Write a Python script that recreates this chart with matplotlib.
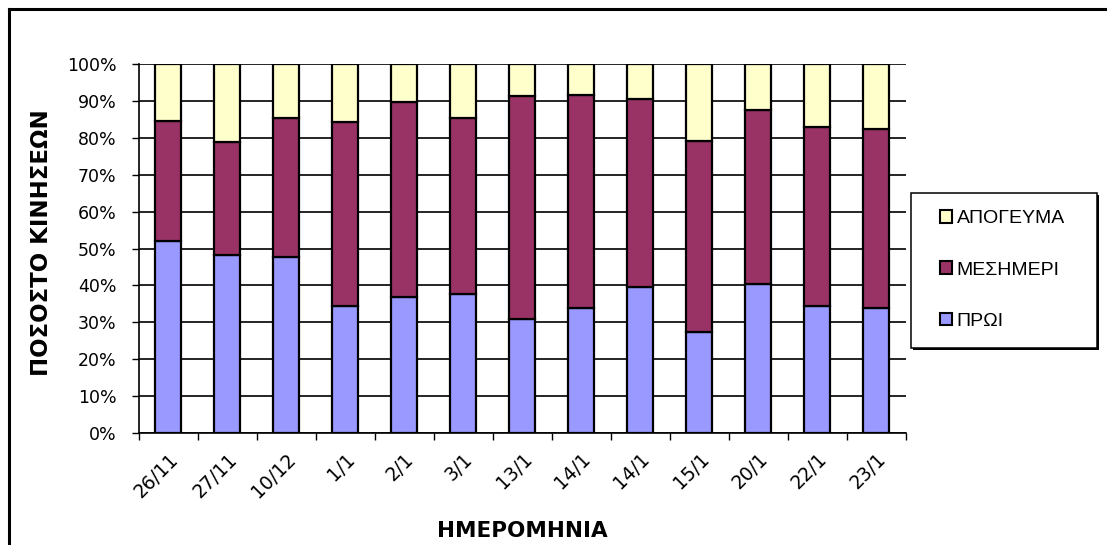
import matplotlib
matplotlib.use("Agg")
import matplotlib.pyplot as plt
import numpy as np
from matplotlib.patches import Patch, Rectangle
from matplotlib.lines import Line2D

dates = ["26/11", "27/11", "10/12", "1/1", "2/1", "3/1", "13/1", "14/1",
         "14/1", "15/1", "20/1", "22/1", "23/1"]
proi = [52.1, 48.3, 47.6, 34.5, 36.9, 37.6, 31.0, 33.8, 39.7, 27.5, 40.3, 34.5, 33.8]
mesimeri = [32.5, 30.6, 37.8, 49.9, 52.7, 47.8, 60.4, 57.9, 50.9, 51.7, 47.1, 48.4, 48.5]
apogeyma = [15.4, 21.1, 14.6, 15.6, 10.4, 14.6, 8.6, 8.3, 9.4, 20.8, 12.6, 17.1, 17.7]
series_names = ["ΠΡΩΙ", "ΜΕΣΗΜΕΡΙ", "ΑΠΟΓΕΥΜΑ"]
colors = ["#9999FF", "#993366", "#FFFFCC"]
yticks = [0, 10, 20, 30, 40, 50, 60, 70, 80, 90, 100]
ytick_labels = [f"{v}%" for v in yticks]

W, H = 1107, 545
fig = plt.figure(figsize=(W / 100, H / 100), dpi=100)
fig.patch.set_facecolor("white")
ax = fig.add_axes([138.7 / W, 1 - 433 / H, (905.7 - 138.7) / W, (433 - 64) / H])

x = np.arange(len(dates))
bottom = np.zeros(len(dates))
for vals, name, c in zip([proi, mesimeri, apogeyma], series_names, colors):
    ax.bar(x, vals, width=0.44, bottom=bottom, color=c, edgecolor="black",
           linewidth=1.6, zorder=3, label=name)
    bottom += np.array(vals)

ax.set_xlim(-0.5, len(dates) - 0.5)
ax.set_ylim(0, 100)
ax.set_yticks(yticks)
ax.set_yticklabels(ytick_labels, fontsize=12.5, family="DejaVu Sans")
ax.yaxis.grid(True, color="black", linewidth=1.2, zorder=0)
ax.set_axisbelow(True)
ax.tick_params(axis="y", length=5, width=1, pad=11, direction="out")

ax.set_xticks(x)
ax.set_xticklabels(dates, rotation=45, ha="right", va="top",
                   rotation_mode="anchor", fontsize=13.5, family="DejaVu Sans")
ax.tick_params(axis="x", which="major", length=0, pad=12)
ax.set_xticks(np.arange(-0.5, len(dates), 1.0), minor=True)
ax.tick_params(axis="x", which="minor", length=5, width=1, direction="out")

for s in ["top", "right"]:
    ax.spines[s].set_visible(False)
for s in ["left", "bottom"]:
    ax.spines[s].set_linewidth(1.2)

fig.text(42 / W, 1 - 243 / H, "ΠΟΣΟΣΤΟ ΚΙΝΗΣΕΩΝ", rotation=90, ha="center",
         va="center", fontsize=16.5, fontweight="bold", family="DejaVu Sans")
fig.text(522 / W, 1 - 531 / H, "ΗΜΕΡΟΜΗΝΙΑ", ha="center", va="center",
         fontsize=15.5, fontweight="bold", family="DejaVu Sans")

# Legend box with a thin dark shadow
lx0, ly0, lx1, ly1 = 911, 193, 1097, 348
fig.add_artist(Rectangle(((lx0 + 2) / W, 1 - (ly1 + 2) / H), (lx1 - lx0) / W,
                         (ly1 - ly0) / H, transform=fig.transFigure,
                         facecolor="black", edgecolor="black", linewidth=0, zorder=4))
fig.add_artist(Rectangle((lx0 / W, 1 - ly1 / H), (lx1 - lx0) / W, (ly1 - ly0) / H,
                         transform=fig.transFigure, facecolor="white",
                         edgecolor="black", linewidth=1.1, zorder=5))

handles = [Patch(facecolor=c, edgecolor="black", linewidth=1.5) for c in colors]
leg = fig.legend(handles[::-1], series_names[::-1],
                 loc="center left",
                 bbox_to_anchor=(940 / W, 1 - 270 / H),
                 bbox_transform=fig.transFigure,
                 frameon=False, borderaxespad=0, borderpad=0,
                 prop={"family": "Liberation Sans", "size": 14},
                 handlelength=0.6, handleheight=0.6, handletextpad=0.25,
                 labelspacing=1.75)
leg.set_zorder(6)

# Outer frame (left and top edges visible)
fig.add_artist(Line2D([9 / W, 9 / W], [0, 1 - 9 / H], transform=fig.transFigure,
                      color="black", linewidth=2.2))
fig.add_artist(Line2D([9 / W, 1], [1 - 9 / H, 1 - 9 / H], transform=fig.transFigure,
                      color="black", linewidth=2.2))

fig.savefig("out.png", dpi=100, facecolor="white")
